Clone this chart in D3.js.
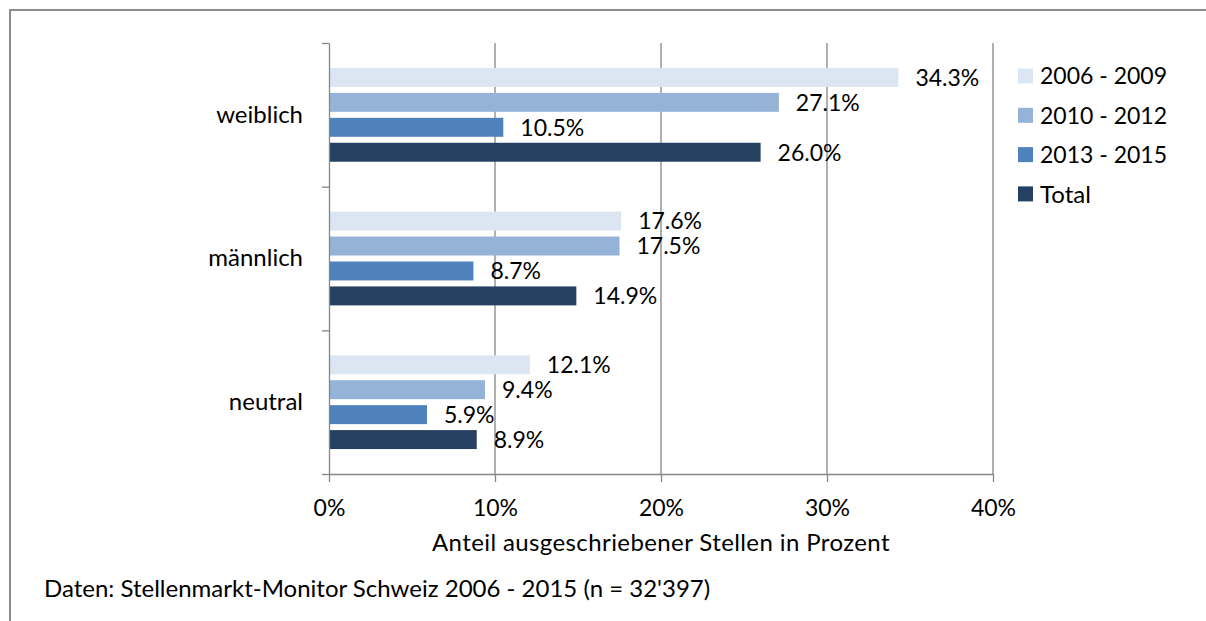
<!DOCTYPE html>
<html>
<head>
<meta charset="utf-8">
<script src="https://cdn.jsdelivr.net/npm/d3@7"></script>
<style>
    body { margin: 0; background: #fff; }
    text { font-family: Lato, "Open Sans", sans-serif; fill: #000; }
    .axis path, .axis line { stroke: #868686; }
</style>
</head>
<body>
<div id="vis"></div>
<script>
// Data
var categories = ['weiblich', 'männlich', 'neutral'];
var seriesNames = ['2006 - 2009', '2010 - 2012', '2013 - 2015', 'Total'];
var values2006 = [34.3, 17.6, 12.1];
var values2010 = [27.1, 17.5, 9.4];
var values2013 = [10.5, 8.7, 5.9];
var valuesTotal = [26.0, 14.9, 8.9];
var xTicks = [0, 10, 20, 30, 40];
var colors = ['#dce6f2', '#95b3d7', '#4f81bd', '#254061'];

var seriesValues = [values2006, values2010, values2013, valuesTotal];

// SVG size and plot area
var width = 1206;
var height = 621;
var margin = { top: 43, right: 213, bottom: 147, left: 329 };
var drawWidth = width - margin.left - margin.right;
var drawHeight = height - margin.top - margin.bottom;

var svg = d3.select('#vis').append('svg').attr('width', width).attr('height', height);

// Outer chart border (runs off the right and bottom edge)
svg.append('rect')
    .attr('x', 10).attr('y', 10)
    .attr('width', width + 20).attr('height', height + 20)
    .attr('fill', 'none').attr('stroke', '#8c8c8c').attr('stroke-width', 2);

var g = svg.append('g').attr('transform', 'translate(' + margin.left + ',' + margin.top + ')');

/************** Scales **************/
var xScale = d3.scaleLinear().domain([0, 40]).range([0, drawWidth]);
var yScale = d3.scaleBand().domain(categories).range([0, drawHeight]);
var inner = d3.scaleBand().domain(seriesNames).range([0, yScale.bandwidth()])
    .paddingInner(0.24).paddingOuter(1);
// group boundaries for the tick marks on the category axis
var bounds = d3.scaleLinear().domain([0, categories.length]).range([0, drawHeight]);

/************** Gridlines **************/
g.append('g').selectAll('line')
    .data(xTicks.slice(1))
    .enter().append('line')
    .attr('x1', function(d) { return xScale(d); })
    .attr('x2', function(d) { return xScale(d); })
    .attr('y1', 0).attr('y2', drawHeight)
    .attr('stroke', '#868686').attr('stroke-width', 1.3);

/************** Bars **************/
var rows = [];
categories.forEach(function(c, i) {
    seriesNames.forEach(function(s, j) {
        rows.push({ cat: c, series: s, idx: j, value: seriesValues[j][i] });
    });
});

g.selectAll('rect.bar').data(rows).enter().append('rect')
    .attr('class', 'bar')
    .attr('x', xScale(0))
    .attr('y', function(d) { return yScale(d.cat) + inner(d.series); })
    .attr('width', function(d) { return xScale(d.value) - xScale(0); })
    .attr('height', inner.bandwidth())
    .attr('fill', function(d) { return colors[d.idx]; });

g.selectAll('text.val').data(rows).enter().append('text')
    .attr('class', 'val')
    .attr('x', function(d) { return xScale(d.value) + 17; })
    .attr('y', function(d) { return yScale(d.cat) + inner(d.series) + inner.bandwidth() / 2; })
    .attr('dy', '0.36em')
    .style('font-size', '23px')
    .text(function(d) { return d.value.toFixed(1) + '%'; });

/************** Axes **************/
var xAxis = d3.axisBottom(xScale).tickValues(xTicks)
    .tickFormat(function(d) { return d + '%'; })
    .tickSizeInner(8).tickSizeOuter(0).tickPadding(18);
var xAxisG = g.append('g').attr('class', 'axis')
    .attr('transform', 'translate(0,' + drawHeight + ')')
    .call(xAxis);
xAxisG.selectAll('text').style('font-size', '23px');
xAxisG.select('.domain').attr('stroke-width', 1.3);
xAxisG.selectAll('.tick line').attr('stroke-width', 1.3);

var boundAxis = d3.axisLeft(bounds).tickValues(d3.range(categories.length + 1))
    .tickFormat('').tickSizeInner(7).tickSizeOuter(0);
var bAxisG = g.append('g').attr('class', 'axis').call(boundAxis);
bAxisG.select('.domain').attr('stroke-width', 1.3);
bAxisG.selectAll('.tick line').attr('stroke-width', 1.3);

var yAxis = d3.axisLeft(yScale).tickSize(0).tickPadding(26);
var yAxisG = g.append('g').attr('class', 'axis').call(yAxis);
yAxisG.select('.domain').remove();
yAxisG.selectAll('text').style('font-size', '24px');

// Axis title and source note
svg.append('text')
    .attr('x', margin.left + drawWidth / 2).attr('y', 551)
    .attr('text-anchor', 'middle')
    .style('font-size', '24px').style('letter-spacing', '0.4px')
    .text('Anteil ausgeschriebener Stellen in Prozent');

svg.append('text')
    .attr('x', 44).attr('y', 597)
    .style('font-size', '24px')
    .text("Daten: Stellenmarkt-Monitor Schweiz 2006 - 2015 (n = 32'397)");

/************** Legend **************/
var legend = svg.append('g').attr('transform', 'translate(1018,76)');
var items = legend.selectAll('g').data(seriesNames).enter().append('g')
    .attr('transform', function(d, i) { return 'translate(0,' + (i * 39.3) + ')'; });
items.append('rect')
    .attr('x', 0).attr('y', -7.5).attr('width', 15).attr('height', 15)
    .attr('fill', function(d, i) { return colors[i]; });
items.append('text')
    .attr('x', 22).attr('dy', '0.36em')
    .style('font-size', function(d) { return d === 'Total' ? '24px' : '23px'; })
    .text(function(d) { return d; });
</script>
</body>
</html>
